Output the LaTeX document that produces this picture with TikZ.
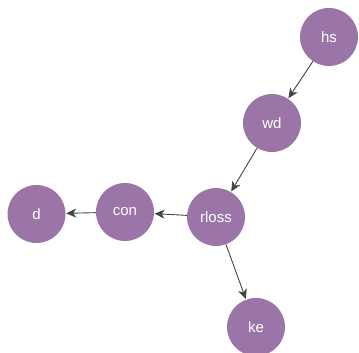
\documentclass[tikz,border=0pt]{standalone}
\usepackage{fontspec}
\setmainfont{Liberation Sans}
\usetikzlibrary{arrows.meta}
\definecolor{nodefill}{RGB}{155,116,168}
\definecolor{edgecol}{RGB}{68,68,68}
\tikzset{
  vert/.style={circle, fill=nodefill, draw=none, minimum size=58pt, inner sep=0pt, text=white, font=\fontsize{15}{17}\selectfont},
  link/.style={draw=edgecol, line width=0.9pt, -{Stealth[length=10pt, width=9pt, inset=3pt]}, shorten >=0.5pt}
}
\begin{document}
\begin{tikzpicture}[x=1pt,y=1pt]
\useasboundingbox (0,0) rectangle (359,353);
\node[vert] (hs) at (329,316) {hs};
\node[vert] (wd) at (272,230) {wd};
\node[vert] (rloss) at (216,136) {rloss};
\node[vert] (con) at (125,141) {con};
\node[vert] (d) at (36.5,139) {d};
\node[vert] (ke) at (256,26) {ke};
\draw[link] (hs) -- (wd);
\draw[link] (wd) -- (rloss);
\draw[link] (rloss) -- (con);
\draw[link] (con) -- (d);
\draw[link] (rloss) -- (ke);
\end{tikzpicture}
\end{document}
